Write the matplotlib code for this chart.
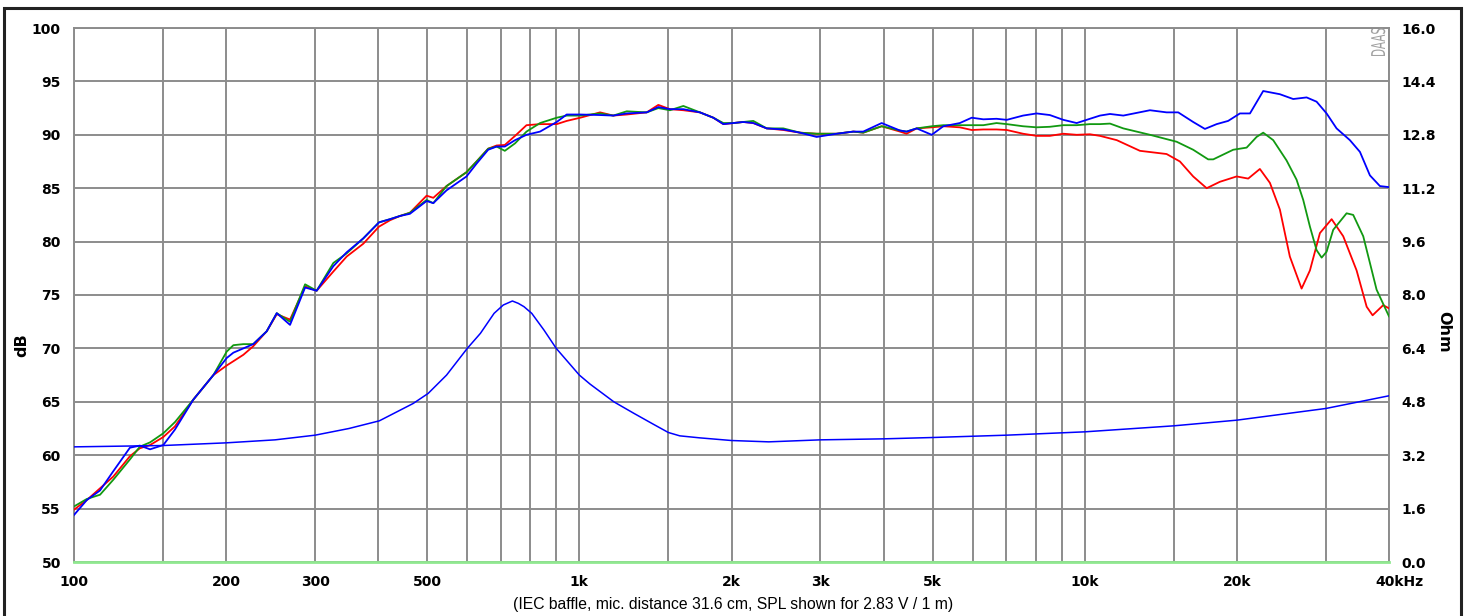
import matplotlib
matplotlib.use('Agg')
import matplotlib.pyplot as plt
from matplotlib.patches import Rectangle, PathPatch
from matplotlib.textpath import TextPath
from matplotlib.font_manager import FontProperties
from matplotlib.transforms import Affine2D
from matplotlib.ticker import FixedLocator, FixedFormatter, NullFormatter

# ---------------- data ----------------
freq_lo = [100, 106, 112.6, 119.6, 129, 135, 141.4, 150.2, 158.4, 172.2, 188.7, 200.5, 206.7,
           216.3, 226.3, 240.6, 251.9, 267.6, 286.6, 302.1, 326, 346.4, 373.6, 401.3, 422,
           441.6, 462, 498.6, 514, 546, 598, 626, 660, 686, 712, 746, 786, 836, 902, 944,
           1004, 1099, 1167, 1241, 1359, 1433, 1511, 1606, 1732, 1841, 1927, 2016, 2110,
           2209, 2348, 2532, 2733, 2948, 3229, 3484, 3645, 3964, 4310, 4440, 4650, 4980,
           5250, 5660, 5975, 6300, 6690, 7010, 7550, 8030, 8530, 9070, 9640, 10240]

spl_red_lo = [54.9, 55.8, 56.9, 58.0, 59.9, 60.65, 60.95, 61.7, 62.7, 65.2, 67.5, 68.4, 68.8,
              69.4, 70.2, 71.6, 73.2, 72.7, 75.8, 75.4, 77.2, 78.6, 79.8, 81.4, 82.0,
              82.4, 82.7, 84.3, 84.1, 85.2, 86.5, 87.5, 88.7, 89.0, 89.05, 89.9, 90.9, 91.0, 91.0, 91.3,
              91.6, 92.1, 91.8, 91.9, 92.1, 92.8, 92.4, 92.3, 92.1, 91.6, 91.0, 91.1, 91.2,
              91.1, 90.6, 90.45, 90.2, 90.1, 90.1, 90.3, 90.2, 90.8, 90.3, 90.1, 90.6, 90.7,
              90.8, 90.7, 90.45, 90.5, 90.5, 90.45, 90.1, 89.9, 89.9, 90.1, 90.0, 90.05]

spl_green_lo = [55.2, 55.9, 56.3, 57.7, 59.6, 60.8, 61.2, 62.05, 63.1, 65.2, 67.5, 69.7, 70.3,
                70.4, 70.4, 71.6, 73.3, 72.5, 76.0, 75.4, 78.0, 78.9, 80.3, 81.8, 82.1,
                82.4, 82.7, 83.9, 83.6, 85.2, 86.5, 87.5, 88.7, 88.9, 88.5, 89.2, 90.3, 91.1, 91.6, 91.8,
                91.8, 92.0, 91.8, 92.2, 92.1, 92.5, 92.3, 92.7, 92.1, 91.6, 91.1, 91.1, 91.2,
                91.3, 90.6, 90.6, 90.2, 90.1, 90.1, 90.3, 90.2, 90.8, 90.4, 90.3, 90.6, 90.8,
                90.9, 90.9, 90.9, 90.9, 91.1, 91.0, 90.8, 90.7, 90.75, 90.9, 90.9, 91.0]

spl_blue_lo = [54.4, 55.8, 56.7, 58.5, 60.7, 60.9, 60.55, 60.95, 62.4, 65.2, 67.5, 69.1, 69.6,
               70.0, 70.4, 71.6, 73.3, 72.2, 75.7, 75.4, 77.7, 79.0, 80.3, 81.8, 82.1,
               82.4, 82.6, 83.8, 83.6, 84.8, 86.1, 87.3, 88.6, 88.9, 88.9, 89.5, 90.0, 90.3, 91.2, 91.9,
               91.9, 91.85, 91.8, 92.0, 92.1, 92.6, 92.4, 92.4, 92.1, 91.6, 91.0, 91.1, 91.2,
               91.1, 90.6, 90.5, 90.2, 89.8, 90.1, 90.3, 90.3, 91.1, 90.4, 90.3, 90.6, 90.0,
               90.8, 91.1, 91.6, 91.45, 91.5, 91.4, 91.8, 92.0, 91.85, 91.4, 91.1, 91.5]

freq_red_hi = [10720, 11570, 12860, 14520, 15430, 16390, 17430, 18510, 19980, 21060, 22210,
               23250, 24330, 25460, 26860, 27900, 29200, 30800, 32470, 34510, 36130, 37120,
               38960, 40000]
spl_red_hi = [89.9, 89.5, 88.5, 88.2, 87.5, 86.1, 85.0, 85.6, 86.1, 85.9, 86.8,
              85.5, 83.0, 78.6, 75.6, 77.3, 80.8, 82.1, 80.5, 77.3, 73.9, 73.1,
              74.05, 73.75]

freq_green_hi = [10720, 11220, 11920, 13460, 15200, 16390, 17550, 17960, 19670, 20910, 21880,
                 22550, 23600, 25080, 26250, 27060, 27900, 28760, 29430, 30100, 31020, 32970,
                 33980, 35570, 36670, 37800, 40000]
spl_green_hi = [91.0, 91.05, 90.6, 90.0, 89.35, 88.6, 87.7, 87.7, 88.6, 88.8, 89.8,
                90.2, 89.5, 87.6, 85.8, 83.9, 81.4, 79.2, 78.5, 79.05, 81.1, 82.65,
                82.5, 80.5, 78.0, 75.5, 73.0]

freq_blue_hi = [10720, 11220, 11920, 13460, 14520, 15310, 16390, 17290, 18240, 19220, 20280,
                21230, 22550, 24330, 25850, 27480, 28760, 30100, 31500, 33470, 35040, 36670,
                38380, 40000]
spl_blue_hi = [91.8, 91.95, 91.8, 92.3, 92.1, 92.1, 91.2, 90.55, 91.0, 91.3, 92.0,
               92.0, 94.1, 93.8, 93.35, 93.5, 93.1, 92.0, 90.6, 89.5, 88.4, 86.2,
               85.2, 85.1]

freq_imp = [100, 150, 200, 250, 300, 350, 402, 469, 502, 546, 600, 637, 678, 707, 737, 757,
            777, 805, 851, 900, 1000, 1050, 1170, 1280, 1400, 1500, 1580, 1730, 2000, 2370,
            3000, 4000, 5000, 7000, 10000, 15000, 20000, 30000, 40000]
ohm_imp = [3.45, 3.49, 3.57, 3.66, 3.8, 4.0, 4.23, 4.75, 5.05, 5.6, 6.4, 6.85, 7.45, 7.7, 7.82, 7.75,
           7.65, 7.45, 6.95, 6.4, 5.6, 5.33, 4.8, 4.46, 4.13, 3.88, 3.78, 3.72, 3.64, 3.6,
           3.66, 3.69, 3.73, 3.8, 3.9, 4.08, 4.25, 4.6, 4.98]

grid_freqs = [100, 150, 200, 300, 400, 500, 600, 700, 800, 900, 1000, 1500, 2000, 3000, 4000,
              5000, 6000, 7000, 8000, 9000, 10000, 15000, 20000, 30000, 40000]
xtick_freqs = [100, 200, 300, 500, 1000, 2000, 3000, 5000, 10000, 20000]
xtick_labels = ['100', '200', '300', '500', '1k', '2k', '3k', '5k', '10k', '20k']
db_ticks = [50, 55, 60, 65, 70, 75, 80, 85, 90, 95, 100]
ohm_ticks = [0.0, 1.6, 3.2, 4.8, 6.4, 8.0, 9.6, 11.2, 12.8, 14.4, 16.0]
caption = '(IEC baffle, mic. distance 31.6 cm, SPL shown for 2.83 V / 1 m)'

# ---------------- figure ----------------
W, H = 1469, 616
fig = plt.figure(figsize=(W / 100, H / 100), dpi=100)
fig.patch.set_facecolor('white')
L, R, T, B = 74, 1389, 28, 562
ax = fig.add_axes([L / W, 1 - B / H, (R - L) / W, (B - T) / H])
ax.set_xscale('log')
ax.set_xlim(100, 40000)
ax.set_ylim(50, 100)

ax2 = ax.twinx()
ax2.set_ylim(0, 16)

gridc = '#8c8c8c'
ax.xaxis.set_major_locator(FixedLocator(xtick_freqs))
ax.xaxis.set_major_formatter(FixedFormatter(xtick_labels))
ax.xaxis.set_minor_locator(FixedLocator([f for f in grid_freqs if f not in xtick_freqs]))
ax.xaxis.set_minor_formatter(NullFormatter())
ax.set_yticks(db_ticks)
ax.grid(True, which='both', axis='x', color=gridc, lw=1.4)
ax.grid(True, which='major', axis='y', color=gridc, lw=1.4)
ax.tick_params(axis='both', which='both', length=0)
ax.tick_params(axis='y', pad=9.5, labelsize=10)
ax.tick_params(axis='x', pad=9.4, labelsize=10)
for lab in ax.get_xticklabels() + ax.get_yticklabels():
    lab.set_fontweight('bold')
    lab.set_family('DejaVu Sans')

for s in ['left', 'top', 'right']:
    ax.spines[s].set_color(gridc)
    ax.spines[s].set_linewidth(1.4)
ax.spines['bottom'].set_color('#90e890')
ax.spines['bottom'].set_linewidth(2)

ax.annotate('40kHz', xy=(40000, 0), xycoords=('data', 'axes fraction'),
            xytext=(7.5, -9.4), textcoords='offset points', ha='center', va='top',
            fontsize=10, fontweight='bold', family='DejaVu Sans')

red, green, blue = '#ff0000', '#119911', '#0000ff'
ax.plot(freq_lo + freq_red_hi, spl_red_lo + spl_red_hi, color=red, lw=1.3, zorder=3)
ax.plot(freq_lo + freq_green_hi, spl_green_lo + spl_green_hi, color=green, lw=1.3, zorder=3)
ax.plot(freq_lo + freq_blue_hi, spl_blue_lo + spl_blue_hi, color=blue, lw=1.3, zorder=3)

ax2.set_yticks(ohm_ticks)
ax2.set_yticklabels(['%.1f' % v for v in ohm_ticks])
ax2.tick_params(axis='y', length=0, pad=9, labelsize=10)
for lab in ax2.get_yticklabels():
    lab.set_fontweight('bold')
    lab.set_family('DejaVu Sans')
for s in ax2.spines.values():
    s.set_visible(False)
ax2.plot(freq_imp, ohm_imp, color=blue, lw=1.1, zorder=3)

# condensed "DAAS" mark, drawn as a scaled text path (pixel units)
tp = TextPath((0, 0), 'DAAS', size=19, prop=FontProperties(family='DejaVu Sans'))
tr = (Affine2D().scale(0.55, 1.0).rotate_deg(90).translate(1385, H - 57).scale(1 / 100.0)
      + fig.dpi_scale_trans)
fig.patches.append(PathPatch(tp, transform=tr, facecolor='#a0a0a0', edgecolor='none'))

fig.text(22 / W, 1 - 345 / H, 'dB', rotation=90, ha='center', va='center',
         fontsize=11.5, fontweight='bold', family='DejaVu Sans')
fig.text(1444 / W, 1 - 332 / H, 'Ohm', rotation=270, ha='center', va='center',
         fontsize=11.5, fontweight='bold', family='DejaVu Sans')
fig.text(733 / W, 1 - 605 / H, caption, ha='center', va='center',
         fontsize=11.3, family=['Liberation Sans', 'DejaVu Sans'])

border = Rectangle((4 / W, 1 - 625 / H), 1457 / W, (625 - 8) / H, transform=fig.transFigure,
                   fill=False, edgecolor='#222222', lw=2.2, clip_on=False)
fig.patches.append(border)

fig.savefig('out.png', dpi=100)
